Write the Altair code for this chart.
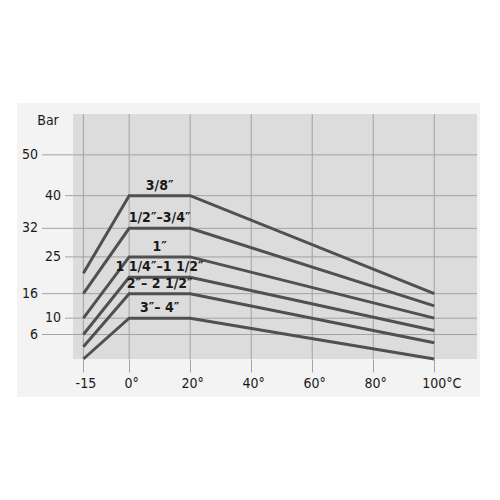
import altair as alt
import pandas as pd

# ---- data ----
temps = [-15, 0, 20, 100]
series_names = ["3/8″", "1/2″–3/4″", "1″", "1 1/4″–1 1/2″", "2″– 2 1/2″", "3″– 4″"]
s_38 = [21, 40, 40, 16]
s_12_34 = [16, 32, 32, 13]
s_1 = [10, 25, 25, 10]
s_114_112 = [6, 20, 20, 7]
s_2_212 = [3, 16, 16, 4]
s_3_4 = [0, 10, 10, 0]
series_values = [s_38, s_12_34, s_1, s_114_112, s_2_212, s_3_4]

x_ticks = [-15, 0, 20, 40, 60, 80, 100]
x_tick_labels = ["-15", "0°", "20°", "40°", "60°", "80°", "100°C"]
y_ticks_outer = [50, 32, 16, 6]
y_ticks_inner = [40, 25, 10]
y_title = "Bar"

FONT = "Liberation Sans Narrow, DejaVu Sans Condensed, sans-serif"
W, H = 404, 245

rows = []
for name, vals in zip(series_names, series_values):
    for t, v in zip(temps, vals):
        rows.append({"series": name, "temp": t, "bar": v})
lines_df = pd.DataFrame(rows)

labels_df = pd.DataFrame({
    "series": series_names,
    "temp": [(temps[1] + temps[2]) / 2] * len(series_names),
    "bar": [v[1] for v in series_values],
})

xs = alt.Scale(domain=[-18.4, 114], nice=False, zero=False)
ys = alt.Scale(domain=[0, 60], nice=False, zero=False)

one = pd.DataFrame({"a": [0]})

frame = alt.Chart(one).mark_rect(color="#f3f3f3").encode(
    x=alt.value(-56), x2=alt.value(W + 3), y=alt.value(-11), y2=alt.value(H + 38)
)
plot_bg = alt.Chart(one).mark_rect(color="#dcdcdc").encode(
    x=alt.value(0), x2=alt.value(W), y=alt.value(0), y2=alt.value(H)
)

label_expr = " : ".join(
    [f"datum.value == {v} ? '{l}'" for v, l in zip(x_ticks, x_tick_labels)]
) + " : ''"

vgrid = alt.Chart(pd.DataFrame({"t": x_ticks})).mark_rule(color="#a3a3a3", strokeWidth=1).encode(
    x=alt.X("t:Q", scale=xs, axis=alt.Axis(
        values=x_ticks, grid=False, domain=False, ticks=True, tickSize=13,
        tickColor="#a3a3a3", labelExpr=label_expr, labelFont=FONT, labelFontSize=14,
        labelColor="#1a1a1a", labelPadding=4, title=None, zindex=1,
        labelOffset={"condition": {"test": "datum.value == 100", "value": 7}, "value": 2},
    )),
    y=alt.value(0), y2=alt.value(H),
)

hgrid_outer = alt.Chart(pd.DataFrame({"v": y_ticks_outer})).mark_rule(color="#a3a3a3", strokeWidth=1).encode(
    y=alt.Y("v:Q", scale=ys, axis=None), x=alt.value(-31), x2=alt.value(W)
)
hgrid_inner = alt.Chart(pd.DataFrame({"v": y_ticks_inner})).mark_rule(color="#a3a3a3", strokeWidth=1).encode(
    y=alt.Y("v:Q", scale=ys, axis=None), x=alt.value(-8), x2=alt.value(W)
)
ylab_outer = alt.Chart(pd.DataFrame({"v": y_ticks_outer})).mark_text(
    align="right", baseline="middle", font=FONT, fontSize=14, color="#1a1a1a"
).encode(y=alt.Y("v:Q", scale=ys, axis=None), x=alt.value(-35), text="v:Q")
ylab_inner = alt.Chart(pd.DataFrame({"v": y_ticks_inner})).mark_text(
    align="right", baseline="middle", font=FONT, fontSize=14, color="#1a1a1a"
).encode(y=alt.Y("v:Q", scale=ys, axis=None), x=alt.value(-12), text="v:Q")

title_txt = alt.Chart(pd.DataFrame({"t": [y_title]})).mark_text(
    align="center", baseline="middle", font=FONT, fontSize=14, color="#1a1a1a"
).encode(x=alt.value(-25), y=alt.value(7), text="t:N")

lines = alt.Chart(lines_df).mark_line(color="#505050", strokeWidth=3).encode(
    x=alt.X("temp:Q", scale=xs), y=alt.Y("bar:Q", scale=ys, axis=None),
    detail="series:N", order="temp:Q",
)
line_labels = alt.Chart(labels_df).mark_text(
    align="center", baseline="middle", font=FONT, fontSize=14, fontWeight="bold",
    color="#1a1a1a", dy=-10
).encode(x=alt.X("temp:Q", scale=xs), y=alt.Y("bar:Q", scale=ys, axis=None), text="series:N")

chart = alt.layer(
    frame, plot_bg, vgrid, hgrid_outer, hgrid_inner, lines, line_labels,
    ylab_outer, ylab_inner, title_txt
).properties(
    width=W, height=H,
    padding={"left": 65, "top": 106, "right": 15, "bottom": 133},
    autosize=alt.AutoSizeParams(type="none"),
).configure_view(stroke=None)

chart.save("out.html", embed_options={"renderer": "svg", "actions": False})
